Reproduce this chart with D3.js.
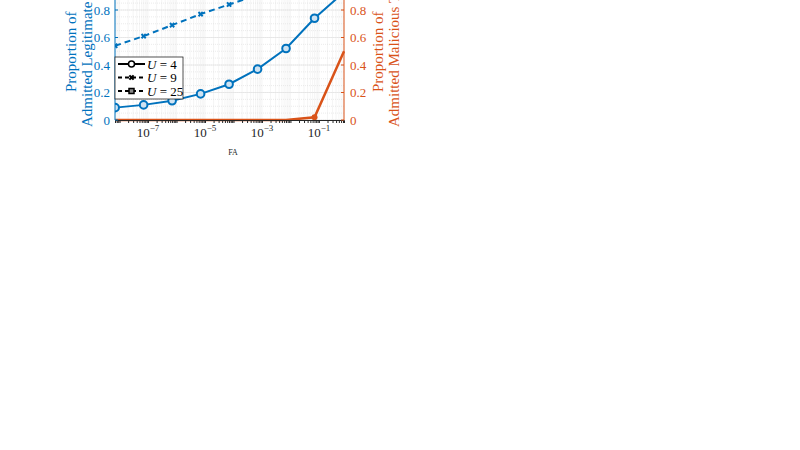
<!DOCTYPE html><html><head><script src="https://cdn.jsdelivr.net/npm/d3@7"></script>
<style>body{margin:0;background:#fff}text{font-family:"Liberation Serif",serif}</style></head><body>
<svg width="800" height="450"></svg>
<script>
const fa=[7e-9,7e-8,7e-7,7e-6,7e-5,7e-4,7e-3,7e-2,0.76];
const legitU4=[0.09,0.11,0.14,0.19,0.26,0.37,0.52,0.74,0.93];
const legitU9=[0.54,0.61,0.69,0.77,0.84,0.91,0.97,1.0,1.0];
const malicU4=[0,0,0,0,0,0,0,0.02,0.5];
const yTicks=[0,0.2,0.4,0.6,0.8,1];
const xTicks=[1e-7,1e-5,1e-3,1e-1];
const blue="#0072BD",orange="#D95319";
const svg=d3.select("svg");
const L=115,R=344,T=-17.5,B=120;
const x=d3.scaleLog().domain([Math.pow(10,-8.16),Math.pow(10,-0.12)]).range([L,R]);
const y=d3.scaleLinear().domain([0,1]).range([B,T]);
const g=svg.append("g");
const minor=[];for(let e=-9;e<=0;e++)for(let k=1;k<10;k++){const v=k*Math.pow(10,e);if(v>=x.domain()[0]&&v<=x.domain()[1])minor.push(v);}
g.selectAll(".gx").data(minor).enter().append("line").attr("x1",d=>x(d)).attr("x2",d=>x(d)).attr("y1",T).attr("y2",B).attr("stroke","#ddd").attr("stroke-width",0.6).attr("stroke-dasharray","1,1");
const ym=d3.range(0,1.01,0.05);
g.selectAll(".gy").data(ym).enter().append("line").attr("x1",L).attr("x2",R).attr("y1",d=>y(d)).attr("y2",d=>y(d)).attr("stroke","#ddd").attr("stroke-width",0.6).attr("stroke-dasharray","1,1");
g.selectAll(".gY").data(yTicks).enter().append("line").attr("x1",L).attr("x2",R).attr("y1",d=>y(d)).attr("y2",d=>y(d)).attr("stroke","#e4e4e4").attr("stroke-width",0.8);
const line=(vals,sc)=>d3.line().x((d,i)=>x(fa[i])).y(d=>sc(d))(vals);
svg.append("defs").append("clipPath").attr("id","c").append("rect").attr("x",L).attr("y",T).attr("width",R-L+2).attr("height",B-T+2);
const pg=svg.append("g").attr("clip-path","url(#c)");
pg.append("path").attr("d",line(malicU4,y)).attr("fill","none").attr("stroke",orange).attr("stroke-width",2.5);
pg.append("circle").attr("cx",x(fa[7])).attr("cy",y(malicU4[7])).attr("r",3).attr("fill",orange);
pg.append("path").attr("d",line(legitU9,y)).attr("fill","none").attr("stroke",blue).attr("stroke-width",2).attr("stroke-dasharray","6,4");
pg.selectAll(".m9").data(legitU9).enter().append("path").attr("transform",(d,i)=>`translate(${x(fa[i])},${y(d)}) rotate(45)`).attr("d",d3.symbol(d3.symbolCross,20)).attr("fill",blue);
pg.append("path").attr("d",line(legitU4,y)).attr("fill","none").attr("stroke",blue).attr("stroke-width",2);
pg.selectAll(".m4").data(legitU4).enter().append("circle").attr("cx",(d,i)=>x(fa[i])).attr("cy",d=>y(d)).attr("r",3.8).attr("fill","#cfe3f2").attr("stroke",blue).attr("stroke-width",2);
const ax=svg.append("g").attr("transform",`translate(0,${B})`).call(d3.axisBottom(x).tickValues(minor).tickSize(3).tickFormat(""));
ax.select(".domain").attr("stroke","#262626");ax.selectAll("line").attr("stroke","#262626");
xTicks.forEach(v=>{const t=svg.append("text").attr("x",x(v)).attr("y",B+17).attr("text-anchor","middle").attr("font-size",13).attr("fill","#262626");
t.append("tspan").text("10");t.append("tspan").attr("dy",-6).attr("font-size",9).text("−"+Math.round(-Math.log10(v)));});
svg.append("line").attr("x1",L).attr("x2",L).attr("y1",T).attr("y2",B).attr("stroke",blue);
svg.append("line").attr("x1",R).attr("x2",R).attr("y1",T).attr("y2",B).attr("stroke",orange);
yTicks.forEach(v=>{
svg.append("line").attr("x1",L).attr("x2",L+3).attr("y1",y(v)).attr("y2",y(v)).attr("stroke",blue);
svg.append("text").attr("x",L-5).attr("y",y(v)+4.5).attr("text-anchor","end").attr("font-size",13).attr("fill",blue).text(v===0?"0":v.toFixed(1));
svg.append("line").attr("x1",R-3).attr("x2",R).attr("y1",y(v)).attr("y2",y(v)).attr("stroke",orange);
svg.append("text").attr("x",R+6).attr("y",y(v)+4.5).attr("font-size",13).attr("fill",orange).text(v===0?"0":v.toFixed(1));
});
svg.append("text").attr("transform","translate(76,92) rotate(-90)").attr("font-size",15).attr("fill",blue).text("Proportion of");
svg.append("text").attr("transform","translate(92,127) rotate(-90)").attr("font-size",15).attr("fill",blue).text("Admitted Legitimate Traffic");
svg.append("text").attr("transform","translate(383,92) rotate(-90)").attr("font-size",15).attr("fill",orange).text("Proportion of");
svg.append("text").attr("transform","translate(399,127) rotate(-90)").attr("font-size",15).attr("fill",orange).text("Admitted Malicious Traffic");
svg.append("text").attr("x",233).attr("y",155).attr("text-anchor","middle").attr("font-size",8).attr("fill","#262626").text("FA");
const lg=svg.append("g");
lg.append("rect").attr("x",115).attr("y",57).attr("width",68).attr("height",42).attr("fill","#fff").attr("stroke","#262626").attr("stroke-width",0.8);
const labs=["4","9","25"],dash=[null,"4,3","4,3"];
labs.forEach((l,i)=>{const yy=64+i*13.5;
lg.append("line").attr("x1",118).attr("x2",145).attr("y1",yy).attr("y2",yy).attr("stroke","#000").attr("stroke-width",2).attr("stroke-dasharray",dash[i]);
if(i===0)lg.append("circle").attr("cx",131.5).attr("cy",yy).attr("r",3).attr("fill","#fff").attr("stroke","#000").attr("stroke-width",1.5);
if(i===1)lg.append("path").attr("transform",`translate(131.5,${yy}) rotate(45)`).attr("d",d3.symbol(d3.symbolCross,20)).attr("fill","#000");
if(i===2)lg.append("rect").attr("x",129).attr("y",yy-2.5).attr("width",5).attr("height",5).attr("fill","#888").attr("stroke","#000").attr("stroke-width",1.5);
const t=lg.append("text").attr("x",147).attr("y",yy+4.5).attr("font-size",13).attr("fill","#000");
t.append("tspan").attr("font-style","italic").text("U");t.append("tspan").text(" = "+l);});
</script></body></html>
